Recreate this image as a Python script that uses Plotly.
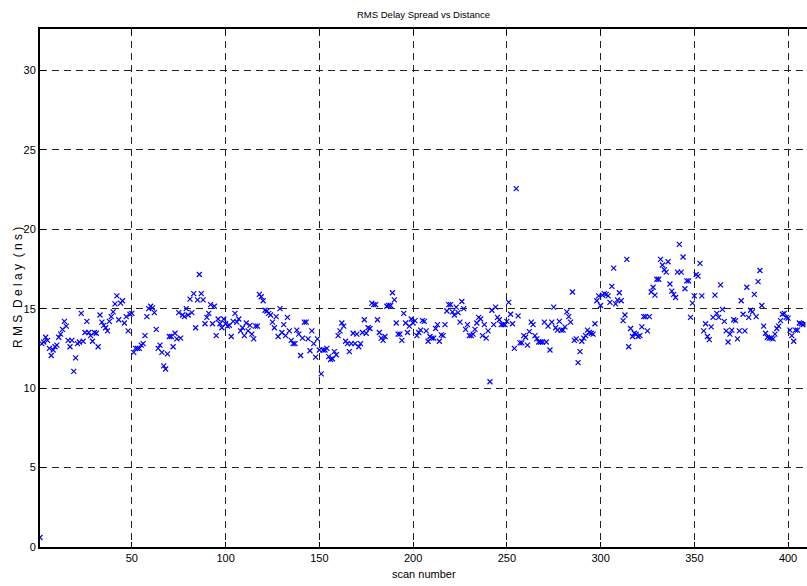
import plotly.graph_objects as go

rms_delay = [
    0.6, 12.8, 12.9, 13.2, 13.0, 12.5, 12.05, 12.4, 12.6, 12.7,
    13.2, 13.4, 13.7, 14.2, 13.9, 13.0, 12.6, 13.0, 11.05, 11.9,
    12.8, 12.9, 14.7, 12.95, 13.5, 14.2, 13.5, 13.3, 12.95, 13.5,
    13.45, 12.6, 14.6, 14.15, 13.95, 13.8, 13.6, 14.2, 14.5, 14.8,
    15.3, 15.8, 14.3, 15.35, 15.5, 14.1, 14.5, 13.6, 14.65, 14.7,
    12.25, 12.5, 12.5, 12.5, 12.7, 12.8, 13.3, 14.5, 15.0, 15.15,
    15.05, 14.75, 13.7, 12.5, 12.7, 12.25, 11.4, 11.2, 12.15, 13.25,
    13.25, 12.6, 13.45, 13.1, 14.75, 13.15, 14.6, 14.5, 15.0, 14.6,
    15.6, 14.75, 15.95, 13.8, 15.55, 17.15, 15.95, 15.55, 14.05, 14.45,
    14.7, 15.25, 14.05, 15.15, 13.3, 14.35, 14.05, 13.8, 14.35, 14.05,
    13.9, 13.95, 13.25, 14.2, 14.7, 14.15, 14.35, 13.6, 13.8, 13.3,
    14.1, 13.6, 13.95, 13.4, 13.1, 13.9, 13.9, 15.9, 15.75, 15.5,
    14.9, 14.85, 14.7, 14.6, 14.15, 13.8, 14.5, 13.25, 15.0, 13.5,
    14.0, 13.3, 14.45, 13.6, 13.0, 12.8, 12.8, 13.65, 13.4, 12.05,
    13.15, 14.15, 14.15, 13.1, 12.35, 13.6, 12.8, 11.95, 13.1, 12.4,
    10.9, 12.4, 12.4, 12.5, 11.98, 11.8, 11.85, 12.3, 12.1, 13.3,
    13.6, 14.1, 13.9, 12.95, 12.8, 12.3, 12.8, 13.45, 12.8, 13.4,
    12.6, 12.8, 13.5, 14.3, 13.45, 13.8, 13.75, 15.35, 15.25, 15.25,
    14.3, 13.5, 13.15, 13.0, 13.25, 15.15, 15.2, 15.2, 16.0, 15.55,
    14.1, 13.4, 13.4, 13.0, 14.7, 14.1, 13.5, 13.9, 14.35, 14.1,
    14.25, 13.3, 13.5, 13.65, 14.25, 14.2, 13.6, 12.95, 13.25, 13.15,
    13.15, 13.75, 14.0, 12.95, 13.35, 13.3, 14.0, 14.85, 15.25, 15.25,
    14.8, 14.6, 15.1, 14.75, 14.15, 15.45, 15.0, 13.7, 14.0, 13.3,
    13.3, 13.4, 13.7, 14.1, 14.45, 14.35, 13.3, 14.0, 13.15, 13.6,
    10.4, 14.9, 14.0, 15.1, 14.45, 14.3, 14.0, 14.0, 14.0, 14.2,
    15.4, 14.65, 14.05, 12.5, 22.55, 14.55, 12.85, 12.85, 13.3, 13.2,
    12.7, 13.55, 14.15, 14.0, 13.3, 13.1, 12.9, 12.9, 12.9, 14.15,
    12.9, 13.9, 12.4, 14.15, 15.1, 13.8, 13.65, 14.2, 13.65, 13.65,
    13.85, 14.8, 14.5, 14.15, 16.05, 13.0, 13.1, 11.6, 12.3, 12.95,
    13.15, 13.3, 13.65, 13.5, 13.45, 13.4, 14.05, 15.5, 15.8, 15.2,
    15.85, 15.95, 15.9, 15.8, 15.4, 16.4, 17.55, 15.3, 15.55, 16.0,
    15.5, 14.25, 14.6, 18.1, 12.6, 13.75, 13.25, 13.45, 13.4, 13.25,
    13.3, 13.85, 14.5, 14.5, 13.6, 14.5, 16.05, 16.35, 15.85, 16.85,
    16.85, 18.1, 17.75, 17.45, 17.3, 17.95, 16.55, 16.1, 15.9, 15.7,
    17.3, 19.05, 17.3, 18.25, 16.25, 16.75, 16.75, 14.45, 15.35, 15.8,
    17.15, 17.05, 17.85, 15.8, 13.6, 14.05, 13.25, 13.05, 13.85, 14.45,
    15.85, 14.7, 14.45, 16.5, 14.95, 14.2, 13.6, 12.9, 13.4, 13.65,
    14.3, 14.25, 13.1, 13.6, 15.5, 14.65, 13.6, 16.35, 14.45, 14.9,
    14.8, 15.9, 14.5, 16.7, 17.4, 15.2, 13.9, 13.45, 13.2, 13.15,
    13.15, 13.1, 13.4, 13.75, 13.9, 14.25, 14.65, 14.7, 14.45, 14.4,
    13.65, 13.3, 12.95, 13.65, 13.65, 14.1, 14.05, 14.0, 14.05, 14.0,
]
scan_number = list(range(1, len(rms_delay) + 1))

x_ticks = [50, 100, 150, 200, 250, 300, 350, 400]
y_ticks = [0, 5, 10, 15, 20, 25, 30]

title_text = "RMS Delay Spread vs Distance"
x_label = "scan number"
y_label = "R M S  D e l a y  ( n s )"

font_family = "Liberation Sans, Arial, sans-serif"

fig = go.Figure()
fig.add_trace(go.Scatter(
    x=scan_number, y=rms_delay, mode="markers",
    marker=dict(symbol="x-thin", size=5, color="#0000ff",
                line=dict(color="#0000ff", width=1.2)),
    showlegend=False, cliponaxis=True,
))

axis_common = dict(
    showgrid=True, gridcolor="#222222", gridwidth=1, griddash="7px,5px",
    zeroline=False, showline=True, linecolor="black", linewidth=2,
    ticks="inside", ticklen=5, tickcolor="black", tickwidth=1,
    tickfont=dict(family=font_family, size=11, color="black"),
)

fig.update_layout(
    width=807, height=586,
    margin=dict(l=40, r=0, t=29, b=39),
    paper_bgcolor="white", plot_bgcolor="white",
    xaxis=dict(range=[1, 410.1], tickvals=x_ticks, mirror="ticks", **axis_common),
    yaxis=dict(range=[0, 32.6], tickvals=y_ticks, mirror=False, **axis_common),
    shapes=[
        dict(type="line", xref="paper", yref="paper", x0=1, x1=1, y0=0.0, y1=0.995,
             line=dict(color="white", width=3), layer="above"),
    ],
    annotations=[
        dict(text=title_text, xref="paper", yref="paper", x=0.5, y=1,
             yshift=15, showarrow=False, xanchor="center", yanchor="middle",
             font=dict(family=font_family, size=9.5, color="black")),
        dict(text=x_label, xref="paper", yref="paper", x=0.5, y=0,
             yshift=-27, showarrow=False, xanchor="center", yanchor="middle",
             font=dict(family=font_family, size=11, color="black")),
        dict(text=y_label, xref="paper", yref="paper", x=0, y=0.5,
             xshift=-22, showarrow=False, textangle=-90,
             xanchor="center", yanchor="middle",
             font=dict(family=font_family, size=12, color="black")),
    ],
)

fig.write_html("out.html", config={"displayModeBar": False})
